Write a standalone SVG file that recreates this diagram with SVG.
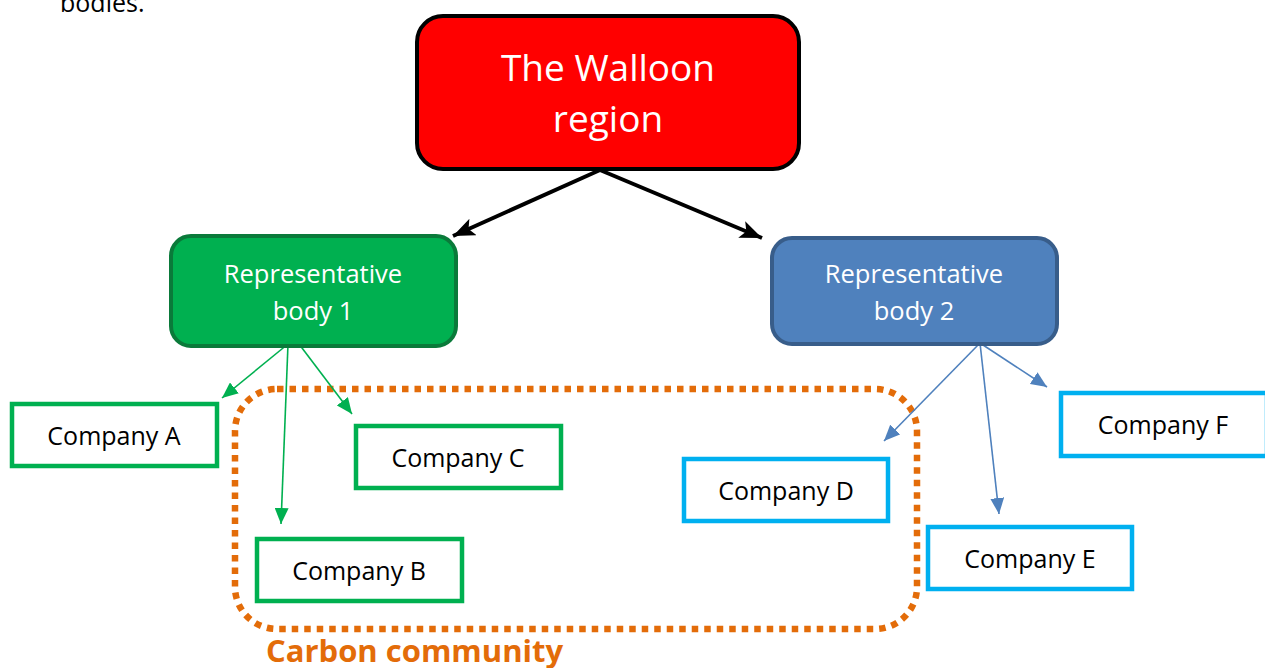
<svg xmlns="http://www.w3.org/2000/svg" width="1265" height="668" viewBox="0 0 1265 668">
<defs>
<style>
text{font-family:"Open Sans","Noto Sans",sans-serif;text-anchor:middle}
.w{fill:#fff;font-size:25.5px}
.c{fill:#000;font-size:25px}
.g{fill:#fff;stroke:#00B050;stroke-width:4.5}
.b{fill:#fff;stroke:#00B0F0;stroke-width:4.5}
</style>
<marker id="ak" markerUnits="userSpaceOnUse" markerWidth="24" markerHeight="18" refX="22" refY="9" orient="auto" viewBox="0 0 24 18"><path d="M0,0 L22,9 L0,18 L5,9 Z" fill="#000"/></marker>
<marker id="ag" markerUnits="userSpaceOnUse" markerWidth="16" markerHeight="14" refX="16" refY="7" orient="auto" viewBox="0 0 16 14"><path d="M0,0 L16,7 L0,14 Z" fill="#00B050"/></marker>
<marker id="ab" markerUnits="userSpaceOnUse" markerWidth="16" markerHeight="14" refX="16" refY="7" orient="auto" viewBox="0 0 16 14"><path d="M0,0 L16,7 L0,14 Z" fill="#4F81BD"/></marker>
</defs>
<rect width="1265" height="668" fill="#fff"/>
<text x="60" y="12" style="text-anchor:start;font-size:25px" fill="#000">bodies.</text>

<g id="community">
<rect x="235" y="389" width="682" height="240" rx="42" fill="none" stroke="#E36C09" stroke-width="6.5" stroke-dasharray="6.5 6"/>
<text x="266" y="662" style="text-anchor:start;font-size:31px;font-weight:bold" fill="#E36C09">Carbon community</text>
</g>

<g id="connectors">
<line x1="600" y1="170" x2="453" y2="236" stroke="#000" stroke-width="4" marker-end="url(#ak)"/>
<line x1="600" y1="170" x2="762" y2="238" stroke="#000" stroke-width="4" marker-end="url(#ak)"/>
<line x1="288" y1="344" x2="222" y2="398" stroke="#00B050" stroke-width="1.6" marker-end="url(#ag)"/>
<line x1="288" y1="344" x2="281" y2="524" stroke="#00B050" stroke-width="1.6" marker-end="url(#ag)"/>
<line x1="299" y1="344" x2="352" y2="414" stroke="#00B050" stroke-width="1.6" marker-end="url(#ag)"/>
<line x1="980" y1="343" x2="884" y2="441" stroke="#4F81BD" stroke-width="1.6" marker-end="url(#ab)"/>
<line x1="980" y1="343" x2="999" y2="514" stroke="#4F81BD" stroke-width="1.6" marker-end="url(#ab)"/>
<line x1="980" y1="343" x2="1047" y2="387" stroke="#4F81BD" stroke-width="1.6" marker-end="url(#ab)"/>
</g>

<g id="walloon">
<rect x="417" y="16" width="382" height="153" rx="26" fill="#FF0000" stroke="#000" stroke-width="4"/>
<text x="608" y="81" fill="#fff" style="font-size:37px">The Walloon</text>
<text x="608" y="132" fill="#fff" style="font-size:37px">region</text>
</g>

<g id="rep1">
<rect x="171" y="236" width="285" height="110" rx="20" fill="#00B050" stroke="#0A7A3A" stroke-width="4"/>
<text class="w" x="313" y="283">Representative</text>
<text class="w" x="313" y="320">body 1</text>
</g>

<g id="rep2">
<rect x="772" y="238" width="285" height="106" rx="20" fill="#4F81BD" stroke="#385D8A" stroke-width="4"/>
<text class="w" x="914" y="283">Representative</text>
<text class="w" x="914" y="320">body 2</text>
</g>

<g id="companyA"><rect class="g" x="12" y="404" width="205" height="62"/><text class="c" x="114" y="445">Company A</text></g>
<g id="companyB"><rect class="g" x="257" y="539" width="205" height="62"/><text class="c" x="359" y="580">Company B</text></g>
<g id="companyC"><rect class="g" x="356" y="426" width="205" height="62"/><text class="c" x="458" y="467">Company C</text></g>
<g id="companyD"><rect class="b" x="684" y="459" width="204" height="62"/><text class="c" x="786" y="500">Company D</text></g>
<g id="companyE"><rect class="b" x="928" y="527" width="204" height="62"/><text class="c" x="1030" y="568">Company E</text></g>
<g id="companyF"><rect class="b" x="1061" y="393" width="206" height="63"/><text class="c" x="1163" y="434">Company F</text></g>
</svg>
